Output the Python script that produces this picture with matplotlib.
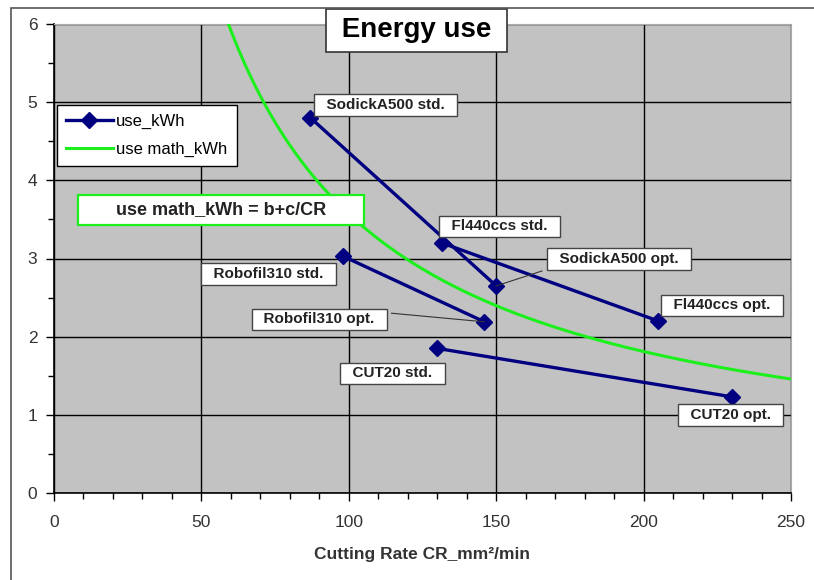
import matplotlib
matplotlib.use("Agg")
import matplotlib.pyplot as plt
import numpy as np
from matplotlib.patches import Rectangle

# --- data ---
machines = ["SodickA500", "Fl440ccs", "Robofil310", "CUT20"]
cr_std = [87.0, 131.5, 98.0, 130.0]
cr_opt = [150.0, 205.0, 146.0, 230.0]
kwh_std = [4.80, 3.20, 3.03, 1.85]
kwh_opt = [2.65, 2.20, 2.19, 1.23]

# model curve use math_kWh = b + c/CR
b_coef = 0.05
c_coef = 352.0
cr_math = np.linspace(58.0, 250.0, 300)

# label boxes: (text, x, y, leader line or None)
labels = [
    ("SodickA500 std.", 112.5, 4.96, None),
    ("Fl440ccs std.", 151.2, 3.41, None),
    ("SodickA500 opt.", 191.6, 2.99, (150.0, 2.65, 165.5, 2.84)),
    ("Fl440ccs opt.", 226.6, 2.40, None),
    ("Robofil310 std.", 72.7, 2.80, None),
    ("Robofil310 opt.", 90.0, 2.22, (146.0, 2.19, 114.5, 2.30)),
    ("CUT20 std.", 114.8, 1.53, None),
    ("CUT20 opt.", 229.6, 1.00, None),
]

plt.rcParams["font.family"] = ["Liberation Sans", "DejaVu Sans"]

fig = plt.figure(figsize=(8.14, 5.80), dpi=100)
fig.patches.append(Rectangle((11 / 814, -0.1), 1.2, 1 - 8 / 580 + 0.1, transform=fig.transFigure,
                             fill=False, edgecolor="#555555", linewidth=1.2))
ax = fig.add_axes([54 / 814, 1 - 493 / 580, (791 - 54) / 814, (493 - 24) / 580])
ax.set_facecolor("#c2c2c2")

ax.plot(cr_math, b_coef + c_coef / cr_math, color="#1cf01c", linewidth=2.2,
        label="use math_kWh", zorder=3)
for i in range(len(machines)):
    ax.plot([cr_std[i], cr_opt[i]], [kwh_std[i], kwh_opt[i]], color="#000080",
            linewidth=2.4, marker="D", markersize=8, zorder=4,
            label="use_kWh" if i == 0 else None)

for text, x, y, lead in labels:
    if lead is not None:
        ax.plot([lead[0], lead[2]], [lead[1], lead[3]], color="#333333", linewidth=0.8, zorder=4)
    ax.text(x, y, "  " + text + "  ", ha="center", va="center", fontsize=11, fontweight="bold",
            color="#222222", zorder=6,
            bbox=dict(boxstyle="square,pad=0.25", facecolor="white", edgecolor="#444444", linewidth=1))

ax.text(123, 5.92, " Energy use ", ha="center", va="center", fontsize=20, fontweight="bold",
        zorder=7, clip_on=False,
        bbox=dict(boxstyle="square,pad=0.3", facecolor="white", edgecolor="#333333", linewidth=1.2))

# equation box
ax.add_patch(Rectangle((8.2, 3.43), 97.1, 0.38, facecolor="white", edgecolor="#1cf01c",
                       linewidth=1.6, zorder=6))
ax.text(56.7, 3.62, "use math_kWh = b+c/CR", ha="center", va="center", fontsize=13,
        fontweight="bold", color="#222222", zorder=7)

handles, labs = ax.get_legend_handles_labels()
order = [labs.index("use_kWh"), labs.index("use math_kWh")]
leg = ax.legend([handles[k] for k in order], [labs[k] for k in order],
                loc="upper left", bbox_to_anchor=(0.004, 0.827), borderaxespad=0, fontsize=12,
                fancybox=False, framealpha=1, edgecolor="black", borderpad=0.55,
                handlelength=2.8, handletextpad=0.2, labelspacing=0.75)
leg.get_frame().set_linewidth(1.0)
leg.set_zorder(8)

ax.set_xlim(0, 250)
ax.set_ylim(0, 6)
ax.set_xticks(np.arange(0, 251, 50))
ax.set_xticks(np.arange(0, 251, 10), minor=True)
ax.set_yticks(np.arange(0, 7, 1))
ax.set_yticks(np.arange(0, 6.1, 0.5), minor=True)
ax.grid(True, which="major", color="black", linewidth=1.0, zorder=1)
ax.set_axisbelow(True)
ax.tick_params(axis="both", which="major", direction="out", length=6, width=1,
               labelsize=12.5, colors="black", labelcolor="#333333")
ax.tick_params(axis="both", which="minor", direction="out", length=4, width=1)
ax.tick_params(axis="x", pad=10)
ax.tick_params(axis="y", pad=6)
for side in ("top", "right"):
    ax.spines[side].set_color("#aaaaaa")
for side in ("left", "bottom"):
    ax.spines[side].set_color("black")
    ax.spines[side].set_linewidth(1.2)

ax.set_xlabel("Cutting Rate CR_mm²/min", fontsize=12.5, fontweight="bold", color="#333333",
              labelpad=12)

fig.savefig("out.png", dpi=100)
